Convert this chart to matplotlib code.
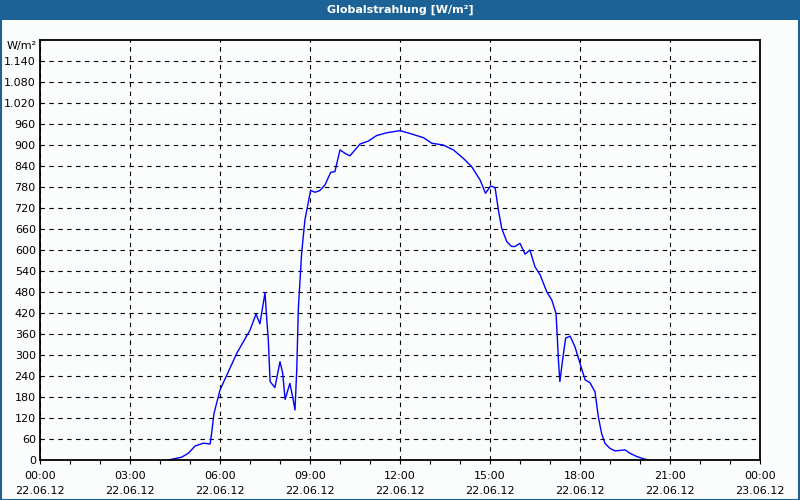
import numpy as np
import matplotlib
matplotlib.use("Agg")
import matplotlib.pyplot as plt
from matplotlib.patches import Rectangle

# Globalstrahlung 22.06.12, Stunde -> W/m²
stunden = [4.28, 4.72, 4.94, 5.17, 5.44, 5.67, 5.72, 5.80, 6.00, 6.56,
           7.00, 7.20, 7.33, 7.50, 7.56, 7.61, 7.67, 7.83, 8.00, 8.09,
           8.17, 8.33, 8.42, 8.50, 8.56, 8.61, 8.72, 8.83, 9.02, 9.17,
           9.33, 9.50, 9.69, 9.83, 10.00, 10.17, 10.33, 10.67, 10.94, 11.22,
           11.56, 12.00, 12.33, 12.78, 13.06, 13.44, 13.78, 14.11, 14.39, 14.67,
           14.85, 15.02, 15.17, 15.28, 15.39, 15.56, 15.72, 15.83, 16.00, 16.17,
           16.33, 16.50, 16.67, 16.89, 17.06, 17.20, 17.24, 17.28, 17.33, 17.42,
           17.52, 17.67, 17.83, 18.00, 18.17, 18.33, 18.50, 18.61, 18.72, 18.83,
           19.00, 19.17, 19.50, 19.67, 19.89, 20.06, 20.28]
werte = [0, 8, 19, 40, 48, 46, 76, 133, 200, 305,
         371, 417, 389, 478, 400, 343, 224, 207, 281, 248,
         173, 219, 181, 143, 262, 429, 590, 686, 770, 765,
         770, 786, 822, 824, 886, 876, 869, 903, 911, 927,
         935, 941, 933, 921, 905, 900, 886, 862, 838, 800,
         762, 783, 778, 714, 662, 624, 610, 610, 619, 588,
         600, 552, 529, 481, 457, 419, 357, 286, 224, 286,
         348, 354, 324, 276, 229, 221, 195, 124, 76, 48,
         33, 26, 29, 19, 10, 5, 0]

x_ticks = [0, 3, 6, 9, 12, 15, 18, 21, 24]
x_labels = ["00:00\n22.06.12", "03:00\n22.06.12", "06:00\n22.06.12",
            "09:00\n22.06.12", "12:00\n22.06.12", "15:00\n22.06.12",
            "18:00\n22.06.12", "21:00\n22.06.12", "00:00\n23.06.12"]
y_ticks = list(range(0, 1141, 60))
y_labels = ["{:,}".format(v).replace(",", ".") for v in y_ticks]

blau = "#1d6296"

fig = plt.figure(figsize=(8, 5), dpi=100)
fig.patch.set_facecolor("#fafdfb")

# Titelleiste und Rahmen
fig.patches.append(Rectangle((0, 0.96), 1, 0.04, transform=fig.transFigure,
                             facecolor=blau, edgecolor="none", zorder=0))
fig.patches.append(Rectangle((0.001, 0.001), 0.998, 0.998, transform=fig.transFigure,
                             facecolor="none", edgecolor=blau, lw=1.5, zorder=0))
fig.text(0.5, 0.98, "Globalstrahlung [W/m²]", color="white", fontsize=8,
         fontweight="bold", ha="center", va="center")

ax = fig.add_axes([0.05, 0.08, 0.9, 0.84])
ax.set_facecolor("#fafdfb")
ax.plot(stunden, werte, color="#0000ff", lw=1)

ax.set_xlim(0, 24)
ax.set_ylim(0, 1200)
ax.set_xticks(x_ticks)
ax.set_xticklabels(x_labels, fontsize=8, linespacing=1.55)
ax.set_xticks(range(25), minor=True)
ax.set_yticks(y_ticks)
ax.set_yticklabels(y_labels, fontsize=8)
ax.tick_params(axis="x", which="both", length=3, width=0.8, pad=5)
ax.tick_params(axis="y", length=0, pad=3)
ax.grid(True, which="major", color="black", lw=0.8, linestyle=(0, (4, 4)))
for s in ax.spines.values():
    s.set_linewidth(1.3)

fig.text(0.046, 0.908, "W/m²", fontsize=8, ha="right", va="center")

fig.savefig("out.png", dpi=100, facecolor=fig.get_facecolor())
